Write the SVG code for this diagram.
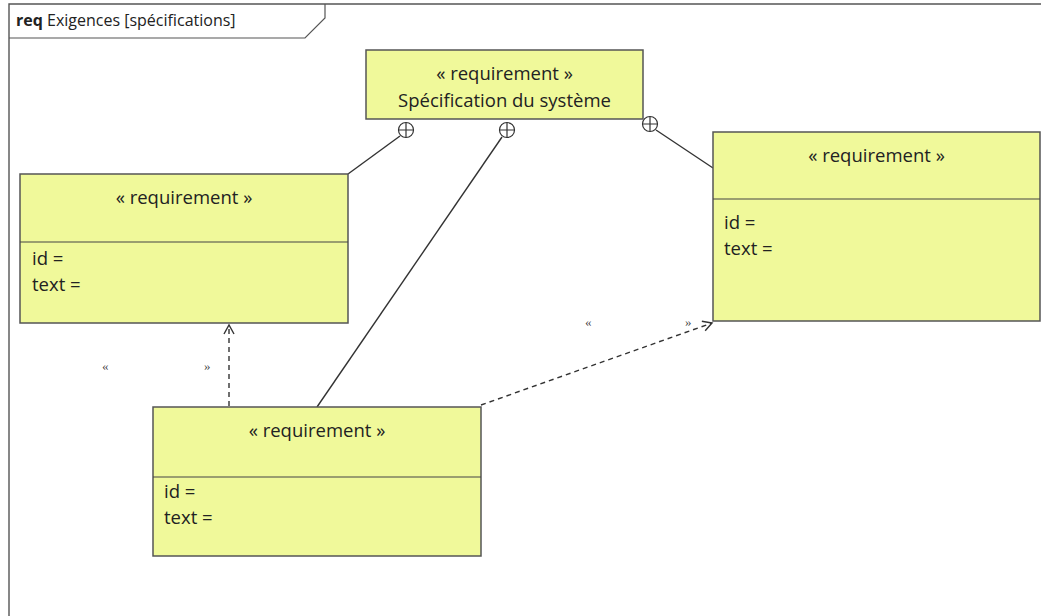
<svg xmlns="http://www.w3.org/2000/svg" width="1041" height="616" viewBox="0 0 1041 616">
<defs>
<style>
.box{fill:#f0f99a;stroke:#555;stroke-width:1.5}
.div{stroke:#444;stroke-width:1.2}
.t{font-family:"Open Sans","Liberation Sans",sans-serif;font-size:18.5px;fill:#222}
.c{text-anchor:middle}
.ln{fill:none;stroke:#333;stroke-width:1.4}
.dash{fill:none;stroke:#333;stroke-width:1.4;stroke-dasharray:5,4}
.g{font-family:"Liberation Serif",serif;font-size:13px;fill:#444}
.circ{fill:#fff;stroke:#333;stroke-width:1.2}
</style>
<marker id="open" markerWidth="12" markerHeight="12" refX="10" refY="6" orient="auto" markerUnits="userSpaceOnUse">
<path d="M1,1 L10,6 L1,11" fill="none" stroke="#333" stroke-width="1.4"/>
</marker>
</defs>
<rect width="1041" height="616" fill="#fff"/>
<g id="frame">
<path d="M9,616 V4 H1041" fill="none" stroke="#555" stroke-width="1.4"/>
<path d="M9,38 H305 L325,18 V4" fill="none" stroke="#555" stroke-width="1.2"/>
<text x="16" y="26" font-family="Open Sans,Liberation Sans,sans-serif" font-size="16" fill="#222"><tspan font-weight="bold">req</tspan> Exigences [spécifications]</text>
</g>
<g id="connectors">
<line class="ln" x1="348" y1="174" x2="400" y2="136"/>
<line class="ln" x1="317" y1="407" x2="502" y2="137"/>
<line class="ln" x1="713" y1="168" x2="656" y2="130"/>
<line class="dash" x1="229" y1="406" x2="229" y2="325" marker-end="url(#open)"/>
<line class="dash" x1="481" y1="405" x2="712" y2="323" marker-end="url(#open)"/>
<text class="g" x="102" y="370">«</text>
<text class="g" x="204" y="370">»</text>
<text class="g" x="585" y="326">«</text>
<text class="g" x="685" y="326">»</text>
<g id="containment1"><circle class="circ" cx="406" cy="130" r="7.5"/><path d="M398.5,130 H413.5 M406,122.5 V137.5" stroke="#333" stroke-width="1.2"/></g>
<g id="containment2"><circle class="circ" cx="507" cy="130" r="7.5"/><path d="M499.5,130 H514.5 M507,122.5 V137.5" stroke="#333" stroke-width="1.2"/></g>
<g id="containment3"><circle class="circ" cx="650" cy="124" r="7.5"/><path d="M642.5,124 H657.5 M650,116.5 V131.5" stroke="#333" stroke-width="1.2"/></g>
</g>
<g id="spec">
<rect class="box" x="366" y="50" width="277" height="69"/>
<text class="t c" x="504.5" y="80">« requirement »</text>
<text class="t c" x="504.5" y="107">Spécification du système</text>
</g>
<g id="req-left">
<rect class="box" x="20" y="174" width="328" height="149"/>
<line class="div" x1="20" y1="242" x2="348" y2="242"/>
<text class="t c" x="184" y="204">« requirement »</text>
<text class="t" x="32" y="265">id =</text>
<text class="t" x="32" y="291">text =</text>
</g>
<g id="req-right">
<rect class="box" x="713" y="132" width="327" height="189"/>
<line class="div" x1="713" y1="199" x2="1040" y2="199"/>
<text class="t c" x="876.5" y="162">« requirement »</text>
<text class="t" x="724" y="229">id =</text>
<text class="t" x="724" y="255">text =</text>
</g>
<g id="req-bottom">
<rect class="box" x="153" y="407" width="328" height="149"/>
<line class="div" x1="153" y1="477" x2="481" y2="477"/>
<text class="t c" x="317" y="437">« requirement »</text>
<text class="t" x="164" y="498">id =</text>
<text class="t" x="164" y="524">text =</text>
</g>
</svg>
